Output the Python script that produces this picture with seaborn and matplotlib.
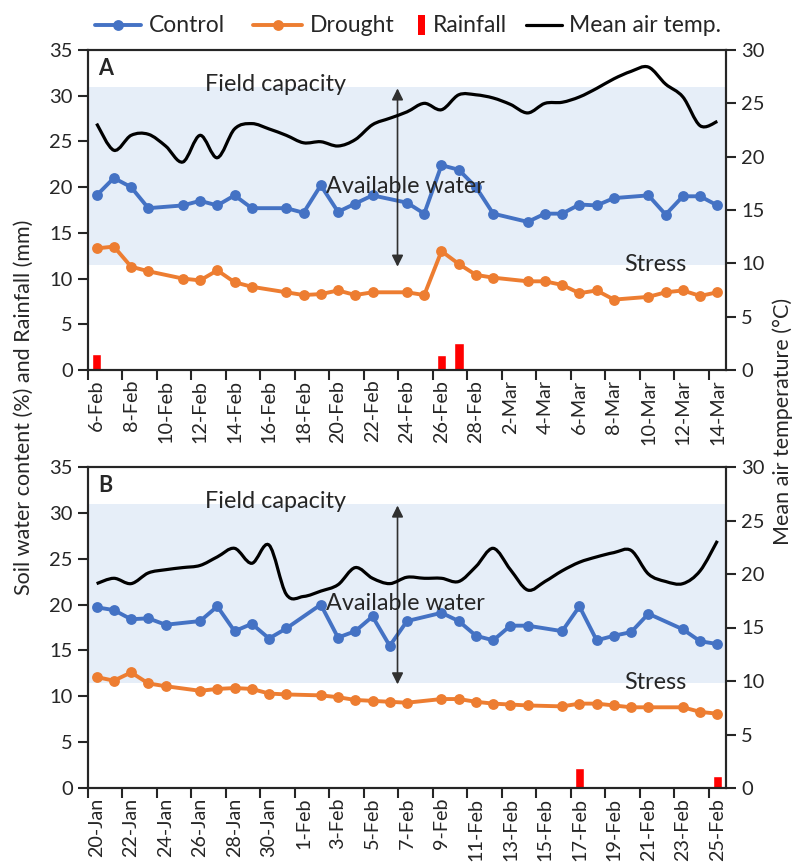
import numpy as np
import matplotlib
matplotlib.use("Agg")
import matplotlib.pyplot as plt
from matplotlib.path import Path
from matplotlib.patches import PathPatch, Rectangle
from matplotlib.lines import Line2D
import seaborn as sns

sns.set_style("ticks")
plt.rcParams["font.family"] = ["Lato", "DejaVu Sans"]

# ---------------- data ----------------
# day offsets from the first date of each period (A: 6-Feb, B: 20-Jan)
days_a = [0, 1, 2, 3, 5, 6, 7, 8, 9, 11, 12, 13, 14, 15, 16, 18, 19, 20, 21, 22,
          23, 25, 26, 27, 28, 29, 30, 32, 33, 34, 35, 36]
control_a = [19.1, 21.0, 20.0, 17.7, 18.0, 18.5, 18.0, 19.1, 17.7, 17.7, 17.2, 20.2,
             17.3, 18.2, 19.1, 18.3, 17.1, 22.4, 21.9, 20.0, 17.1, 16.2, 17.1, 17.1,
             18.1, 18.0, 18.8, 19.1, 17.0, 19.0, 19.0, 18.0]
drought_a = [13.3, 13.5, 11.3, 10.8, 10.0, 9.8, 10.9, 9.6, 9.1, 8.5, 8.2, 8.3,
             8.7, 8.2, 8.5, 8.5, 8.2, 13.0, 11.6, 10.4, 10.1, 9.7, 9.7, 9.3,
             8.4, 8.7, 7.7, 8.0, 8.5, 8.7, 8.1, 8.5]
rain_days_a = [0, 20, 21]
rain_a = [1.8, 1.6, 2.9]
temp_a = [23.1, 20.6, 22.0, 22.1, 21.0, 19.5, 22.0, 19.9, 22.6, 23.1, 22.6, 22.0,
          21.3, 21.4, 21.0, 21.6, 23.0, 23.6, 24.2, 25.0, 24.4, 25.8, 25.8, 25.5,
          24.9, 24.1, 25.0, 25.1, 25.6, 26.4, 27.3, 28.0, 28.4, 26.8, 25.6, 22.9, 23.3]
labels_a = ["6-Feb", "8-Feb", "10-Feb", "12-Feb", "14-Feb", "16-Feb", "18-Feb",
            "20-Feb", "22-Feb", "24-Feb", "26-Feb", "28-Feb", "2-Mar", "4-Mar",
            "6-Mar", "8-Mar", "10-Mar", "12-Mar", "14-Mar"]

days_b = [0, 1, 2, 3, 4, 6, 7, 8, 9, 10, 11, 13, 14, 15, 16, 17, 18, 20, 21, 22,
          23, 24, 25, 27, 28, 29, 30, 31, 32, 34, 35, 36]
control_b = [19.7, 19.4, 18.4, 18.5, 17.8, 18.2, 19.8, 17.1, 17.9, 16.3, 17.4, 20.0,
             16.4, 17.1, 18.7, 15.5, 18.2, 19.1, 18.2, 16.6, 16.1, 17.7, 17.7, 17.1,
             19.8, 16.1, 16.6, 17.0, 19.0, 17.3, 16.0, 15.7]
drought_b = [12.1, 11.7, 12.6, 11.4, 11.1, 10.6, 10.8, 10.9, 10.8, 10.3, 10.2, 10.1,
             9.9, 9.6, 9.5, 9.4, 9.3, 9.7, 9.7, 9.4, 9.2, 9.1, 9.0, 8.9,
             9.2, 9.2, 9.0, 8.8, 8.8, 8.8, 8.3, 8.1]
rain_days_b = [28, 36]
rain_b = [2.2, 1.3]
temp_b = [19.1, 19.6, 19.1, 20.1, 20.4, 20.6, 20.8, 21.6, 22.4, 21.0, 22.7, 18.1,
          17.9, 18.4, 19.0, 20.6, 19.6, 19.1, 19.7, 19.6, 19.6, 19.3, 20.7, 22.4,
          20.4, 18.5, 19.3, 20.3, 21.1, 21.6, 22.0, 22.2, 20.0, 19.3, 19.1, 20.3, 23.1]
labels_b = ["20-Jan", "22-Jan", "24-Jan", "26-Jan", "28-Jan", "30-Jan", "1-Feb",
            "3-Feb", "5-Feb", "7-Feb", "9-Feb", "11-Feb", "13-Feb", "15-Feb",
            "17-Feb", "19-Feb", "21-Feb", "23-Feb", "25-Feb"]

FIELD_CAPACITY = 31.0
STRESS_LEVEL = 11.5

C_CONTROL = "#4472C4"
C_DROUGHT = "#ED7D31"
C_RAIN = "#FF0000"
C_BAND = "#E6EEF8"

LINE_W = 2.8
MARKER = 7.8
NOTE_SIZE = 16.8


def smooth_path(x, y):
    """Excel-style smoothed line: cubic Bezier segments through every point."""
    x = np.asarray(x, float)
    y = np.asarray(y, float)
    n = len(x)
    verts = [(x[0], y[0])]
    codes = [Path.MOVETO]
    for i in range(n - 1):
        x0, y0 = (x[i - 1], y[i - 1]) if i > 0 else (x[i], y[i])
        x3, y3 = (x[i + 2], y[i + 2]) if i + 2 < n else (x[i + 1], y[i + 1])
        c1 = (x[i] + (x[i + 1] - x0) / 6.0, y[i] + (y[i + 1] - y0) / 6.0)
        c2 = (x[i + 1] - (x3 - x[i]) / 6.0, y[i + 1] - (y3 - y[i]) / 6.0)
        verts += [c1, c2, (x[i + 1], y[i + 1])]
        codes += [Path.CURVE4] * 3
    return Path(verts, codes)


def draw_panel(ax, days, control, drought, rain_days, rain, temp, labels, letter):
    ax.axhspan(STRESS_LEVEL, FIELD_CAPACITY, color=C_BAND, lw=0, zorder=0)
    ax.bar(rain_days, rain, width=0.56, color=C_RAIN, zorder=2)
    sns.lineplot(x=days, y=control, ax=ax, color=C_CONTROL, lw=LINE_W, marker="o",
                 markersize=MARKER, markeredgewidth=0, zorder=4)
    sns.lineplot(x=days, y=drought, ax=ax, color=C_DROUGHT, lw=LINE_W, marker="o",
                 markersize=MARKER, markeredgewidth=0, zorder=4)

    ax.set_xlim(-0.5, 36.5)
    ax.set_ylim(0, 35)
    ax.set_yticks(np.arange(0, 36, 5))
    ax.set_xticks(np.arange(-0.5, 36, 2))
    ax.set_xticklabels([])
    ax.set_xticks(np.arange(0, 37, 2), minor=True)
    ax.set_xticklabels(labels, minor=True, rotation=90, fontsize=14.2)
    ax.tick_params(axis="x", which="minor", length=0, pad=7)
    ax.tick_params(axis="x", which="major", length=7, width=1.5, direction="out")
    ax.tick_params(axis="y", length=7, width=1.5, labelsize=14.5, pad=4)
    ax.set_xlabel("")
    ax.set_ylabel("")
    for s in ax.spines.values():
        s.set_visible(True)
        s.set_linewidth(1.5)
        s.set_color("black")

    axt = ax.twinx()
    axt.set_ylim(0, 30)
    axt.set_yticks(np.arange(0, 31, 5))
    axt.tick_params(axis="y", length=7, width=1.5, labelsize=14.5, pad=4)
    for s in axt.spines.values():
        s.set_linewidth(1.5)
    axt.add_patch(PathPatch(smooth_path(np.arange(len(temp)), temp), fill=False,
                            edgecolor="black", lw=2.3, zorder=3))

    ax.text(0.5, 33.0, letter, fontsize=15.5, fontweight="bold", ha="center",
            va="center")
    ax.text(10.35, FIELD_CAPACITY + 0.2, "Field capacity", fontsize=NOTE_SIZE,
            ha="center", va="center")
    ax.text(17.9, 20.1, "Available water", fontsize=NOTE_SIZE, ha="center",
            va="center", zorder=6)
    ax.text(32.4, STRESS_LEVEL, "Stress", fontsize=NOTE_SIZE, ha="center", va="center")
    ax.annotate("", xy=(17.45, FIELD_CAPACITY - 0.2), xytext=(17.45, STRESS_LEVEL - 0.2),
                arrowprops=dict(arrowstyle="<|-|>", color="#303030", lw=1.2,
                                mutation_scale=17, shrinkA=0, shrinkB=0),
                zorder=5)
    return axt


fig = plt.figure(figsize=(7.96, 8.67), dpi=100)
W, H = 796.0, 867.0
ax_a = fig.add_axes([88 / W, 1 - 370 / H, 638 / W, 320 / H])
ax_b = fig.add_axes([88 / W, 1 - 788 / H, 638 / W, 321 / H])

draw_panel(ax_a, days_a, control_a, drought_a, rain_days_a, rain_a, temp_a, labels_a, "A")
draw_panel(ax_b, days_b, control_b, drought_b, rain_days_b, rain_b, temp_b, labels_b, "B")

fig.text(24 / W, 1 - 407 / H, "Soil water content (%) and Rainfall (mm)",
         rotation=90, ha="center", va="center", fontsize=15.5)
fig.text(783 / W, 1 - 421 / H, "Mean air temperature (°C)",
         rotation=90, ha="center", va="center", fontsize=15.5)

# legend row across the top, laid out in pixel positions
LEG_Y = 1 - 25 / H
LEG_SIZE = 16.5
tf = fig.transFigure
for x0, x1, col in [(95, 141, C_CONTROL), (253, 302, C_DROUGHT)]:
    fig.add_artist(Line2D([x0 / W, x1 / W], [LEG_Y, LEG_Y], transform=tf, color=col,
                          lw=LINE_W))
    fig.add_artist(Line2D([(x0 + x1) / 2 / W], [LEG_Y], transform=tf, color=col,
                          marker="o", markersize=MARKER, markeredgewidth=0))
fig.add_artist(Rectangle((418 / W, 1 - 35 / H), 7 / W, 20 / H, transform=tf,
                         color=C_RAIN, lw=0))
fig.add_artist(Line2D([526 / W, 562 / W], [LEG_Y, LEG_Y], transform=tf, color="black",
                      lw=2.3))
for x, txt in [(149, "Control"), (310, "Drought"), (433, "Rainfall"),
               (569, "Mean air temp.")]:
    fig.text(x / W, LEG_Y, txt, fontsize=LEG_SIZE, ha="left", va="center")

fig.savefig("out.png", dpi=100)
